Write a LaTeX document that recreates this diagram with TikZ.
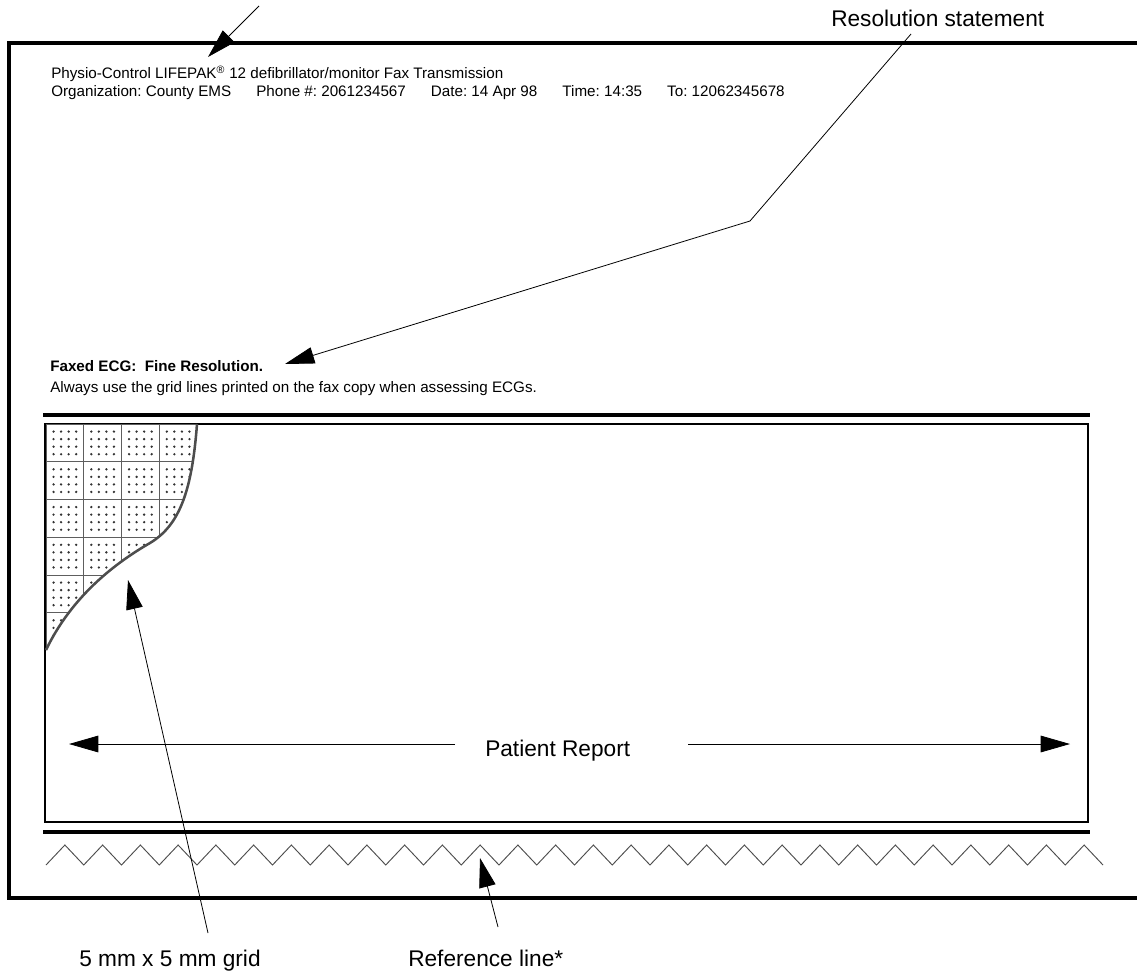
\documentclass[tikz,border=0pt]{standalone}
\usepackage{fontspec}
\setmainfont{Liberation Sans}
\usepackage{tikz}
\usetikzlibrary{arrows.meta,positioning}
\definecolor{inkgray}{HTML}{4D4D4D}
\definecolor{gridgray}{HTML}{5E5E5E}
\frenchspacing

\begin{document}
\begin{tikzpicture}[x=0.75pt,y=-0.75pt,
    faxline/.style={font=\fontsize{11.4}{13.7}\selectfont,inner sep=0pt,anchor=base west},
    calloutlabel/.style={font=\fontsize{17}{20}\selectfont,inner sep=0pt,anchor=base west},
    pointer/.style={line width=0.6pt,-{Triangle[length=22pt,width=12.5pt]}}]
  \useasboundingbox (0,0) rectangle (1137,970);
  \draw[line width=2.6pt] (1137,43) -- (9,43) -- (9,898) -- (1137,898);
  \draw[line width=2.5pt] (43,415) -- (1090,415);
  \draw[line width=2.5pt] (43,832) -- (1090,832);
  \draw[line width=1.1pt] (45,424) rectangle (1088,822);

  \node[faxline] (hdrtitle) at (51,79) {Physio-Control LIFEPAK\textsuperscript{®} 12 defibrillator/monitor Fax Transmission};
  \node[faxline] (hdrinfo) at (51,97) {Organization: County EMS\hspace{1.65em}Phone \#: 2061234567\hspace{1.65em}Date: 14 Apr 98\hspace{1.65em}Time: 14:35\hspace{1.65em}To: 12062345678};
  \node[faxline,font=\fontsize{11.4}{13.7}\selectfont\bfseries] (finenote) at (50,371) {Faxed ECG:\ \ Fine Resolution.};
  \node[faxline] (usenote) at (50,392) {Always use the grid lines printed on the fax copy when assessing ECGs.};

  \begin{scope}
    \clip (46,424) -- (197,424) .. controls (192,490) and (180,525) .. (150,543)
      .. controls (110,566) and (70,600) .. (46,650) -- cycle;
    \foreach \i in {0,...,4}
      \draw[gridgray,line width=0.65pt] ({46+37.75*\i},424) -- ({46+37.75*\i},651);
    \foreach \j in {0,...,6}
      \draw[gridgray,line width=0.65pt] (46,{424+37.75*\j}) -- (200,{424+37.75*\j});
    \foreach \i in {0,...,4}
      \foreach \j in {0,...,5}
        \foreach \a in {1,...,4}
          \foreach \b in {1,...,4}
            \fill[black!80] ({46+37.75*(\i+\a/5)},{424+37.75*(\j+\b/5)}) circle (1.3);
  \end{scope}
  \draw[inkgray,line width=1.9pt] (197,424) .. controls (192,490) and (180,525) .. (150,543)
    .. controls (110,566) and (70,600) .. (46,650);

  \draw[inkgray,line width=0.7pt] (46,865)
    \foreach \k in {0,...,27} { -- ({46+37.75*\k+18.875},845) -- ({46+37.75*(\k+1)},865) };

  \node[calloutlabel] (patient) at (485,756) {Patient Report};
  \node[calloutlabel] (resnote) at (831,27) {Resolution statement};
  \node[calloutlabel] (gridnote) at (79,966) {5 mm x 5 mm grid};
  \node[calloutlabel] (refnote) at (408,966) {Reference line*};

  \coordinate (hdrfoot) at (259,6);
  \coordinate (hdrtip) at (208,57);
  \coordinate (resfoot) at (911,34);
  \coordinate (resbend) at (750,221);
  \coordinate (restip) at (285,364);
  \coordinate (gridfoot) at (208,933);
  \coordinate (gridtip) at (128,580);
  \coordinate (reffoot) at (498,927);
  \coordinate (reftip) at (480,858);
  \coordinate (ptleft) at (455,744);
  \coordinate (ptlefttip) at (69,744);
  \coordinate (ptright) at (688,744);
  \coordinate (ptrighttip) at (1070,744);

  \draw[pointer] (hdrfoot) -- (hdrtip);
  \draw[pointer] (resfoot) -- (resbend) -- (restip);
  \draw[pointer] (gridfoot) -- (gridtip);
  \draw[pointer] (reffoot) -- (reftip);
  \draw[pointer] (ptleft) -- (ptlefttip);
  \draw[pointer] (ptright) -- (ptrighttip);
\end{tikzpicture}
\end{document}
